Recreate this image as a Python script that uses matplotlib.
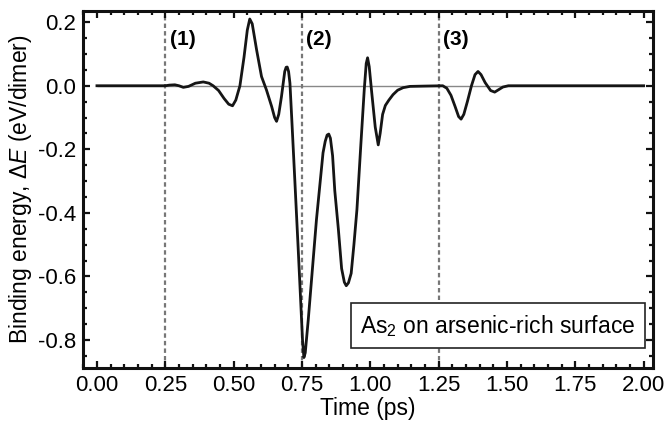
import numpy as np
import matplotlib
matplotlib.use("Agg")
import matplotlib.pyplot as plt
from matplotlib.ticker import MultipleLocator

plt.rcParams['font.family'] = ['Liberation Sans', 'DejaVu Sans']
plt.rcParams['mathtext.fontset'] = 'custom'
plt.rcParams['mathtext.rm'] = 'Liberation Sans'
plt.rcParams['mathtext.it'] = 'Liberation Sans:italic'

# --- data ---
time = [0.00, 0.25, 0.265, 0.285, 0.30, 0.316, 0.335, 0.36, 0.389, 0.41,
        0.425, 0.445, 0.465, 0.482, 0.496, 0.508, 0.523, 0.538, 0.550, 0.559,
        0.568, 0.584, 0.602, 0.620, 0.639, 0.650, 0.657, 0.665, 0.675, 0.687,
        0.692, 0.696, 0.701, 0.706, 0.713, 0.724, 0.736, 0.746, 0.752, 0.757,
        0.762, 0.773, 0.803, 0.827, 0.835, 0.842, 0.848, 0.854, 0.862, 0.870,
        0.883, 0.895, 0.905, 0.912, 0.920, 0.930, 0.940, 0.951, 0.965, 0.978,
        0.985, 0.990, 0.996, 1.005, 1.018, 1.029, 1.036, 1.045, 1.055, 1.068,
        1.083, 1.100, 1.120, 1.145, 1.200, 1.265, 1.280, 1.295, 1.310, 1.323,
        1.332, 1.342, 1.355, 1.370, 1.383, 1.394, 1.405, 1.420, 1.440, 1.455,
        1.470, 1.485, 1.505, 2.00]
energy = [0.0, 0.0, 0.002, 0.003, 0.0, -0.005, -0.002, 0.008, 0.012, 0.008,
          0.0, -0.015, -0.040, -0.058, -0.063, -0.045, 0.0, 0.09, 0.175, 0.21,
          0.195, 0.113, 0.029, -0.013, -0.065, -0.100, -0.112, -0.09, -0.034, 0.045,
          0.058, 0.059, 0.045, 0.008, -0.11, -0.30, -0.51, -0.69, -0.80, -0.855,
          -0.84, -0.736, -0.421, -0.211, -0.175, -0.155, -0.152, -0.165, -0.22, -0.33,
          -0.45, -0.575, -0.618, -0.629, -0.62, -0.59, -0.50, -0.39, -0.19, -0.01,
          0.07, 0.088, 0.06, -0.02, -0.13, -0.186, -0.15, -0.09, -0.062, -0.045,
          -0.028, -0.014, -0.006, -0.002, -0.001, 0.0, -0.008, -0.03, -0.065, -0.097,
          -0.105, -0.09, -0.05, 0.0, 0.035, 0.045, 0.035, 0.01, -0.015, -0.02,
          -0.012, -0.004, 0.0, 0.0]
stage_times = [0.25, 0.75, 1.25]
stage_labels = ['(1)', '(2)', '(3)']

fig = plt.figure(figsize=(6.64, 4.25), dpi=100)
ax = fig.add_axes([0.125, 0.134, 0.858, 0.840])

# zero reference line and stage markers
ax.hlines(0, time[0], time[-1], color='#888888', lw=1.0, zorder=1)
for t, lab in zip(stage_times, stage_labels):
    ax.axvline(t, color='#777777', lw=1.6, ls=(0, (2, 1.4)), zorder=1)
    ax.text(t + 0.016, 0.145, lab, fontsize=15, fontweight='bold',
            ha='left', va='center')

ax.plot(time, energy, color='#151515', lw=2.0, zorder=3,
        solid_joinstyle='round')

ax.text(0.970, 0.082, 'As$_2$ on arsenic-rich surface', transform=ax.transAxes,
        fontsize=16.5, ha='right', va='bottom',
        bbox=dict(boxstyle='square,pad=0.42', fc='white', ec='#222222', lw=1.2))

# --- formatting ---
ax.set_xlim(-0.051, 2.033)
ax.set_ylim(-0.888, 0.235)
ax.xaxis.set_major_locator(MultipleLocator(0.25))
ax.xaxis.set_minor_locator(MultipleLocator(0.05))
ax.yaxis.set_major_locator(MultipleLocator(0.2))
ax.yaxis.set_minor_locator(MultipleLocator(0.05))
ax.xaxis.set_major_formatter(plt.FormatStrFormatter('%.2f'))
ax.yaxis.set_major_formatter(plt.FormatStrFormatter('%.1f'))
ax.tick_params(which='both', direction='in', top=True, right=True,
               labelsize=16, width=1.6, color='#111111')
ax.tick_params(which='major', length=5, pad=5)
ax.tick_params(which='minor', length=3)
for s in ax.spines.values():
    s.set_linewidth(2.2)
    s.set_color('#111111')

ax.set_xlabel('Time (ps)', fontsize=16.5, labelpad=1)
ax.set_ylabel('Binding energy, Δ$\\mathit{E}$ (eV/dimer)', fontsize=16.5, labelpad=3)

fig.savefig('out.png', dpi=100)
